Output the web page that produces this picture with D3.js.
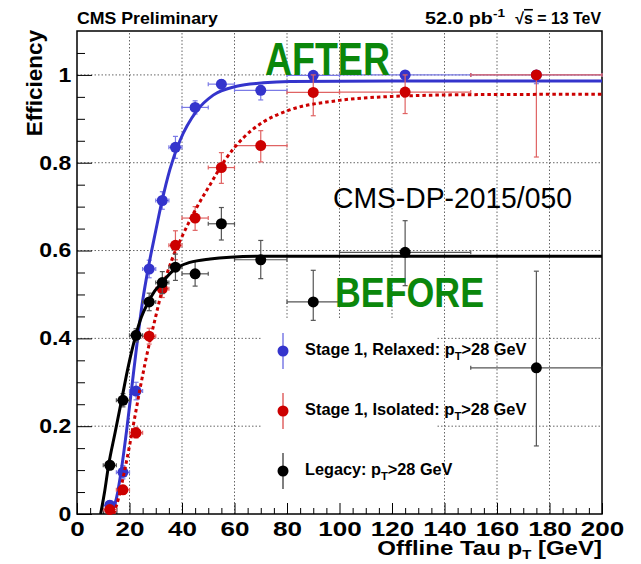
<!DOCTYPE html>
<html>
<head>
<meta charset="utf-8">
<script src="https://cdn.jsdelivr.net/npm/d3@7"></script>
<style>
  body { margin: 0; background: #fff; }
  text { font-family: "Liberation Sans", Arial, Helvetica, sans-serif; }
</style>
</head>
<body>
<svg id="chart" width="641" height="564"></svg>
<script>
// bins of offline tau pT
const binLo = [10, 15, 20, 25, 30, 35, 40, 50, 60, 80, 100, 150];
const binHi = [15, 20, 25, 30, 35, 40, 50, 60, 80, 100, 150, 200];

// Stage 1, Relaxed
const relaxedEff   = [0.02, 0.095, 0.28, 0.558, 0.714, 0.835, 0.926, 0.979, 0.965, 0.999, 1.0, 1.0];
const relaxedErrLo = [0.01, 0.015, 0.02, 0.02, 0.02, 0.025, 0.015, 0.01, 0.022, 0.01, 0.01, 0.02];
const relaxedErrHi = [0.01, 0.015, 0.02, 0.02, 0.02, 0.025, 0.015, 0.01, 0.011, 0, 0, 0];

// Stage 1, Isolated
const isolatedEff   = [0.01, 0.055, 0.185, 0.405, 0.513, 0.612, 0.674, 0.789, 0.839, 0.96, 0.961, 1.0];
const isolatedErrLo = [0.005, 0.01, 0.012, 0.018, 0.02, 0.033, 0.028, 0.036, 0.037, 0.053, 0.049, 0.187];
const isolatedErrHi = [0.005, 0.01, 0.012, 0.018, 0.02, 0.033, 0.026, 0.034, 0.034, 0.04, 0.039, 0];

// Legacy
const legacyEff   = [0.111, 0.259, 0.407, 0.483, 0.527, 0.562, 0.547, 0.661, 0.579, 0.483, 0.596, 0.333];
const legacyErrLo = [0.01, 0.015, 0.015, 0.02, 0.025, 0.03, 0.028, 0.037, 0.043, 0.042, 0.076, 0.178];
const legacyErrHi = [0.01, 0.015, 0.015, 0.02, 0.025, 0.03, 0.028, 0.037, 0.044, 0.072, 0.072, 0.22];

// fitted turn-on curves
const relaxedFitX = [13, 15, 17, 19, 21, 23, 25, 27.2, 30, 32.2, 35.4, 39.2, 45.6, 51.9, 60.8, 71, 81, 120, 200];
const relaxedFitY = [0, 0.035, 0.105, 0.195, 0.295, 0.395, 0.485, 0.562, 0.645, 0.708, 0.785, 0.85, 0.918, 0.954, 0.974, 0.982, 0.985, 0.986, 0.986];
const isolatedFitX = [14, 16, 18, 20, 22, 24, 26, 28, 30, 32.2, 36, 40.5, 45.6, 50.7, 55.7, 63.4, 71, 80, 100, 120, 150, 200];
const isolatedFitY = [0, 0.04, 0.095, 0.155, 0.22, 0.285, 0.345, 0.4, 0.45, 0.505, 0.577, 0.638, 0.698, 0.75, 0.8, 0.857, 0.893, 0.918, 0.942, 0.951, 0.955, 0.956];
const legacyFitX = [9, 10.5, 12, 14.5, 17, 19.5, 22.3, 24.5, 27.2, 29.5, 32.2, 37.3, 43, 50.7, 58.3, 70, 200];
const legacyFitY = [0, 0.05, 0.11, 0.185, 0.26, 0.335, 0.405, 0.448, 0.483, 0.507, 0.526, 0.558, 0.573, 0.581, 0.585, 0.587, 0.587];

const xMajor = [0, 20, 40, 60, 80, 100, 120, 140, 160, 180, 200];
const yMajor = [0, 0.2, 0.4, 0.6, 0.8, 1];
const legendLabels = ["Stage 1, Relaxed: p", "Stage 1, Isolated: p", "Legacy: p"];

const svg = d3.select("#chart");

const x = d3.scaleLinear().domain([0, 200]).range([77, 602]);
const y = d3.scaleLinear().domain([0, 1.1]).range([514, 31]);

// text helper: builds a text at (x0,y0) and stretches it horizontally to a target width
function addText(x0, y0, anchor, size, targetW, build, rot, fill) {
  const g = svg.append("g").attr("transform", "translate(" + x0 + "," + y0 + ")" + (rot ? " rotate(" + rot + ")" : ""));
  const t = g.append("text")
    .attr("text-anchor", anchor)
    .attr("font-size", size)
    .attr("font-weight", "bold")
    .attr("fill", fill || "#000");
  build(t);
  if (targetW) {
    const w = t.node().getBBox().width;
    t.attr("transform", "scale(" + (targetW / w) + ",1)");
  }
  return t;
}

// grid
const grid = svg.append("g")
  .attr("stroke", "#666")
  .attr("stroke-width", 1)
  .attr("stroke-dasharray", "1.5,2");
xMajor.slice(1, -1).forEach(v => {
  grid.append("line").attr("x1", x(v)).attr("x2", x(v)).attr("y1", y(0)).attr("y2", y(1.1));
});
yMajor.slice(1).forEach(v => {
  grid.append("line").attr("x1", x(0)).attr("x2", x(200)).attr("y1", y(v)).attr("y2", y(v));
});

// legend box hides the grid
svg.append("rect")
  .attr("x", 262).attr("y", 320).attr("width", 175).attr("height", 193)
  .attr("fill", "#fff");

// axes with ticks inside the frame
const xMinor = d3.range(0, 201, 5).filter(v => v % 20 !== 0);
const yMinor = d3.range(0, 22).map(i => i * 0.05).filter((v, i) => i % 4 !== 0);

const gx = svg.append("g").attr("transform", "translate(0," + y(0) + ")");
gx.call(d3.axisBottom(x).tickValues(xMajor).tickSize(-11).tickPadding(7).tickFormat(d3.format("d")));
gx.append("g").call(d3.axisBottom(x).tickValues(xMinor).tickSize(-6).tickFormat(""));
gx.selectAll(".domain").remove();
gx.selectAll("text")
  .attr("font-size", 21).attr("font-weight", "bold")
  .attr("font-family", '"Liberation Sans", Arial, sans-serif')
  .attr("transform", "scale(1.24,1)");

const gy = svg.append("g").attr("transform", "translate(" + x(0) + ",0)");
gy.call(d3.axisLeft(y).tickValues(yMajor).tickSize(-15).tickPadding(5).tickFormat(d3.format("~g")));
gy.append("g").call(d3.axisLeft(y).tickValues(yMinor).tickSize(-8).tickFormat(""));
gy.selectAll(".domain").remove();
gy.selectAll("text")
  .attr("font-size", 20).attr("font-weight", "bold")
  .attr("font-family", '"Liberation Sans", Arial, sans-serif')
  .attr("transform", "scale(1.15,1)");
svg.selectAll(".tick line").attr("stroke", "#000");

// frame
svg.append("rect")
  .attr("x", x(0)).attr("y", y(1.1))
  .attr("width", x(200) - x(0)).attr("height", y(0) - y(1.1))
  .attr("fill", "none").attr("stroke", "#000").attr("stroke-width", 1.5);

// clip for the curves
svg.append("clipPath").attr("id", "plotClip")
  .append("rect")
  .attr("x", x(0)).attr("y", y(1.1))
  .attr("width", x(200) - x(0)).attr("height", y(0) - y(1.1));

const series = [
  { eff: relaxedEff, lo: relaxedErrLo, hi: relaxedErrHi, fx: relaxedFitX, fy: relaxedFitY,
    color: "#3434cc", err: "#7b7be6", dash: null },
  { eff: isolatedEff, lo: isolatedErrLo, hi: isolatedErrHi, fx: isolatedFitX, fy: isolatedFitY,
    color: "#cc0000", err: "#e06363", dash: "3.5,3" },
  { eff: legacyEff, lo: legacyErrLo, hi: legacyErrHi, fx: legacyFitX, fy: legacyFitY,
    color: "#000000", err: "#555555", dash: null }
];

const line = d3.line()
  .x(d => x(d[0]))
  .y(d => y(d[1]))
  .curve(d3.curveMonotoneX);

series.forEach(s => {
  const g = svg.append("g");
  const eb = g.append("g").attr("stroke", s.err).attr("stroke-width", 1.2);
  s.eff.forEach((v, i) => {
    const cx = x((binLo[i] + binHi[i]) / 2), cy = y(v);
    // horizontal bin width
    eb.append("line").attr("x1", x(binLo[i])).attr("x2", x(binHi[i])).attr("y1", cy).attr("y2", cy);
    eb.append("line").attr("x1", x(binLo[i])).attr("x2", x(binLo[i])).attr("y1", cy - 2).attr("y2", cy + 2);
    eb.append("line").attr("x1", x(binHi[i])).attr("x2", x(binHi[i])).attr("y1", cy - 2).attr("y2", cy + 2);
    // vertical uncertainty
    if (s.lo[i] + s.hi[i] > 0) {
      const y1 = y(v - s.lo[i]), y2 = y(v + s.hi[i]);
      eb.append("line").attr("x1", cx).attr("x2", cx).attr("y1", y1).attr("y2", y2);
      if (s.lo[i] > 0) eb.append("line").attr("x1", cx - 2.5).attr("x2", cx + 2.5).attr("y1", y1).attr("y2", y1);
      if (s.hi[i] > 0) eb.append("line").attr("x1", cx - 2.5).attr("x2", cx + 2.5).attr("y1", y2).attr("y2", y2);
    }
  });
  g.selectAll("circle")
    .data(s.eff)
    .join("circle")
    .attr("cx", (d, i) => x((binLo[i] + binHi[i]) / 2))
    .attr("cy", d => y(d))
    .attr("r", 5.5)
    .attr("fill", s.color);
  g.append("path")
    .datum(s.fx.map((v, i) => [v, s.fy[i]]))
    .attr("clip-path", "url(#plotClip)")
    .attr("fill", "none")
    .attr("stroke", s.color)
    .attr("stroke-width", 3)
    .attr("stroke-dasharray", s.dash)
    .attr("d", line);
});

// legend
const legY = [351, 411, 471];
series.forEach((s, i) => {
  svg.append("line")
    .attr("x1", 283).attr("x2", 283).attr("y1", legY[i] - 18).attr("y2", legY[i] + 18)
    .attr("stroke", s.err).attr("stroke-width", 1.5);
  svg.append("circle").attr("cx", 283).attr("cy", legY[i]).attr("r", 5.5).attr("fill", s.color);
  addText(305, legY[i] + 4, "start", 16, i < 2 ? 222 : 148, t => {
    t.append("tspan").text(legendLabels[i]);
    t.append("tspan").attr("font-size", 11).attr("dy", 5).text("T");
    t.append("tspan").attr("dy", -5).text(">28 GeV");
  });
});

// header
addText(77, 24, "start", 16, 141, t => t.text("CMS Preliminary"));
addText(425, 24, "start", 16, 80, t => {
  t.append("tspan").text("52.0 pb");
  t.append("tspan").attr("font-size", 11).attr("dy", -7).text("-1");
});
addText(601, 24, "end", 16, 86, t => {
  t.append("tspan").text("\u221A");
  t.append("tspan").style("text-decoration", "overline").text("s");
  t.append("tspan").text(" = 13 TeV");
});

// axis titles
addText(602, 555, "end", 21, 225, t => {
  t.append("tspan").text("Offline Tau p");
  t.append("tspan").attr("font-size", 13).attr("dy", 4).text("T");
  t.append("tspan").attr("dy", -4).text(" [GeV]");
});
addText(42, 30, "end", 22, 107, t => t.text("Efficiency"), -90);

// annotations
addText(265, 75, "start", 46, 125, t => t.text("AFTER"), null, "#0b870b");
addText(335, 307, "start", 42, 149, t => t.text("BEFORE"), null, "#0b870b");
addText(333, 208, "start", 30, 239, t => t.text("CMS-DP-2015/050").attr("font-weight", "normal"));
</script>
</body>
</html>
